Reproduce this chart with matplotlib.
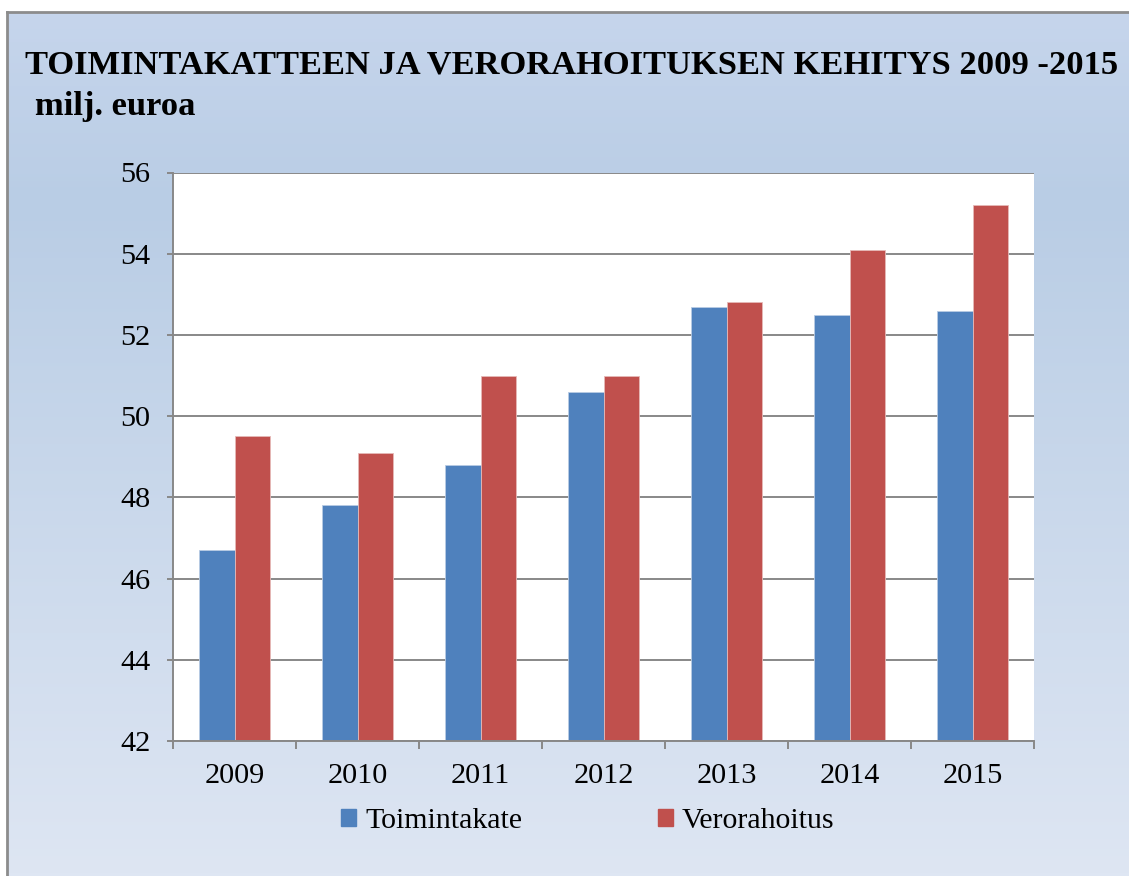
import matplotlib
matplotlib.use("Agg")
import matplotlib.pyplot as plt
import numpy as np
from matplotlib.colors import LinearSegmentedColormap
from matplotlib.patches import Patch

years = ["2009", "2010", "2011", "2012", "2013", "2014", "2015"]
toimintakate = [46.7, 47.8, 48.8, 50.6, 52.7, 52.5, 52.6]
verorahoitus = [49.5, 49.1, 51.0, 51.0, 52.8, 54.1, 55.2]

plt.rcParams['font.family'] = ['Liberation Serif', 'DejaVu Serif']

W, H = 1129, 876
fig = plt.figure(figsize=(W / 100, H / 100), dpi=100)
fig.patch.set_facecolor('white')

# background panel with vertical gradient (top row of image = first value)
bg = fig.add_axes([7 / W, 0, 1, 1 - 12 / H])
grad = LinearSegmentedColormap.from_list(
    "bg", [(0.0, "#c6d5ec"), (0.22, "#b9cde5"), (1.0, "#dee6f3")])
bg.imshow(np.linspace(0, 1, 256).reshape(-1, 1), cmap=grad, aspect='auto',
          extent=[0, 1, 0, 1], vmin=0, vmax=1)
bg.set_xticks([])
bg.set_yticks([])
for s in ['right', 'bottom']:
    bg.spines[s].set_visible(False)
for s in ['left', 'top']:
    bg.spines[s].set_color('#8c8c8c')
    bg.spines[s].set_linewidth(2)

fig.text(25 / W, 1 - 74 / H, "TOIMINTAKATTEEN JA VERORAHOITUKSEN KEHITYS 2009 -2015",
         fontsize=24.8, fontweight='bold', ha='left', va='baseline')
fig.text(35 / W, 1 - 115 / H, "milj. euroa",
         fontsize=24.8, fontweight='bold', ha='left', va='baseline')

ax = fig.add_axes([173 / W, 1 - 741 / H, (1034 - 173) / W, (741 - 172.5) / H])
ax.set_facecolor('white')

x = np.arange(len(years))
bw = 0.285
ax.bar(x - bw / 2, toimintakate, bw, color='#4f81bd', edgecolor='#b9cce4',
       linewidth=0.6, zorder=3, label='Toimintakate')
ax.bar(x + bw / 2, verorahoitus, bw, color='#c0504d', edgecolor='#e6b9b8',
       linewidth=0.6, zorder=3, label='Verorahoitus')

ax.set_xlim(-0.5, len(years) - 0.5)
ax.set_ylim(42, 56)
ax.set_yticks(np.arange(42, 57, 2))
ax.set_xticks(x)
ax.set_xticklabels(years)
ax.set_xticks(np.arange(-0.5, len(years), 1), minor=True)

ax.grid(axis='y', color='#888888', linewidth=1.4, zorder=1)
for s in ['top', 'right']:
    ax.spines[s].set_visible(False)
for s in ['left', 'bottom']:
    ax.spines[s].set_color('#888888')
    ax.spines[s].set_linewidth(1.4)
    ax.spines[s].set_zorder(4)

ax.tick_params(axis='y', length=4.3, width=1.4, color='#888888', pad=12,
               labelsize=21.8)
ax.tick_params(axis='x', which='major', length=0, pad=16, labelsize=21.8)
ax.tick_params(axis='x', which='minor', length=5.8, width=1.4, color='#888888')

handles = [Patch(color='#4f81bd', label='Toimintakate'),
           Patch(color='#c0504d', label='Verorahoitus')]
fig.legend(handles=handles, loc='center', bbox_to_anchor=(588 / W, 1 - 821 / H),
           ncol=2, frameon=False, fontsize=21.5, handlelength=0.5,
           handleheight=0.5, handletextpad=0.3, columnspacing=4.55)

fig.savefig("out.png", dpi=100)
